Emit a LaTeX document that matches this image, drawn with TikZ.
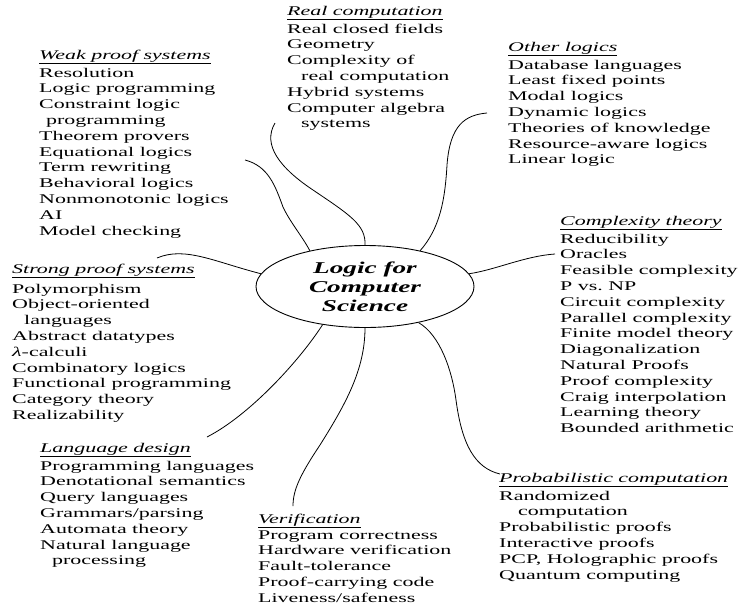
\documentclass[tikz,border=0pt]{standalone}
\usepackage{fontspec}
\setmainfont{Liberation Serif}[FakeStretch=1.65]
\usetikzlibrary{shapes.geometric}

\newcommand{\topichead}[1]{\rule{0pt}{10pt}\underline{\textit{#1}\vphantom{y}}}
\newcommand{\ind}[1][12pt]{\hspace*{#1}}

\begin{document}
\begin{tikzpicture}[
    x=1pt, y=-1pt,
    topic/.style={anchor=north west, align=left, inner sep=0pt,
        font=\fontsize{13.3}{15.8}\selectfont},
    hubnode/.style={draw, ellipse, line width=0.9pt, minimum width=218pt,
        minimum height=82pt, inner sep=0pt, align=center,
        font=\fontsize{16.5}{19}\selectfont\bfseries\itshape},
    link/.style={draw, line width=0.8pt}
]
\useasboundingbox (0,0) rectangle (738,608);

\node[hubnode] (hub) at (365,286.5) {Logic for\\Computer\\Science};

\node[topic] (real) at (287,5) {\topichead{Real computation}\\[2pt]
    Real closed fields\\ Geometry\\ Complexity of\\ \ind[14pt]real computation\\
    Hybrid systems\\ Computer algebra\\ \ind[14pt]systems};
\node[topic] (other) at (508,41) {\topichead{Other logics}\\[2pt]
    Database languages\\ Least fixed points\\ Modal logics\\ Dynamic logics\\
    Theories of knowledge\\ Resource-aware logics\\ Linear logic};
\node[topic] (weak) at (39,49) {\topichead{Weak proof systems}\\[2pt]
    Resolution\\ Logic programming\\ Constraint logic\\ \ind[7pt]programming\\
    Theorem provers\\ Equational logics\\ Term rewriting\\ Behavioral logics\\
    Nonmonotonic logics\\ AI\\ Model checking};
\node[topic] (strong) at (12,263) {\topichead{Strong proof systems}\\[4pt]
    Polymorphism\\ Object-oriented\\ \ind languages\\ Abstract datatypes\\
    \textit{λ}-calculi\\ Combinatory logics\\ Functional programming\\
    Category theory\\ Realizability};
\node[topic] (comp) at (560,215) {\topichead{Complexity theory}\\[2pt]
    Reducibility\\ Oracles\\ Feasible complexity\\ P vs.\ NP\\
    Circuit complexity\\ Parallel complexity\\ Finite model theory\\
    Diagonalization\\ Natural Proofs\\ Proof complexity\\ Craig interpolation\\
    Learning theory\\ Bounded arithmetic};
\node[topic] (lang) at (40,442) {\topichead{Language design}\\[2pt]
    Programming languages\\ Denotational semantics\\ Query languages\\
    Grammars/parsing\\ Automata theory\\ Natural language\\ \ind processing};
\node[topic] (verif) at (258,513) {\topichead{Verification}\\
    Program correctness\\ Hardware verification\\ Fault-tolerance\\
    Proof-carrying code\\ Liveness/safeness};
\node[topic] (prob) at (499,472) {\topichead{Probabilistic computation}\\[2pt]
    Randomized\\ \ind[19pt]computation\\ Probabilistic proofs\\
    Interactive proofs\\ PCP, Holographic proofs\\ Quantum computing};

% loose ends of the curves
\coordinate (realend) at (275,123);
\coordinate (weakend) at (245,160);
\coordinate (otherend) at (487,113);
\coordinate (strongend) at (157,258);
\coordinate (compend) at (555,254);
\coordinate (probend) at (500,474);
\coordinate (verifend) at (293,506);
\coordinate (langend) at (207,437);

\path[link]
    (hub.north) .. controls (366,225) and (350,215) .. (313,190)
        .. controls (280,168) and (262,145) .. (realend)
    (hub.147) .. controls (302,236) and (290,222) .. (283,207)
        .. controls (275,185) and (268,166) .. (weakend)
    (hub.33) .. controls (440,228) and (445,200) .. (447,165)
        .. controls (450,125) and (465,115) .. (otherend)
    (hub.173) .. controls (215,262) and (185,246) .. (strongend)
    (hub.7) .. controls (495,270) and (525,256) .. (compend)
    (hub.-34) .. controls (440,335) and (452,370) .. (456,400)
        .. controls (462,445) and (475,468) .. (probend)
    (hub.south) .. controls (365,370) and (345,405) .. (320,445)
        .. controls (300,475) and (293,490) .. (verifend)
    (hub.222) .. controls (300,360) and (250,415) .. (langend)
    ;

\end{tikzpicture}
\end{document}
